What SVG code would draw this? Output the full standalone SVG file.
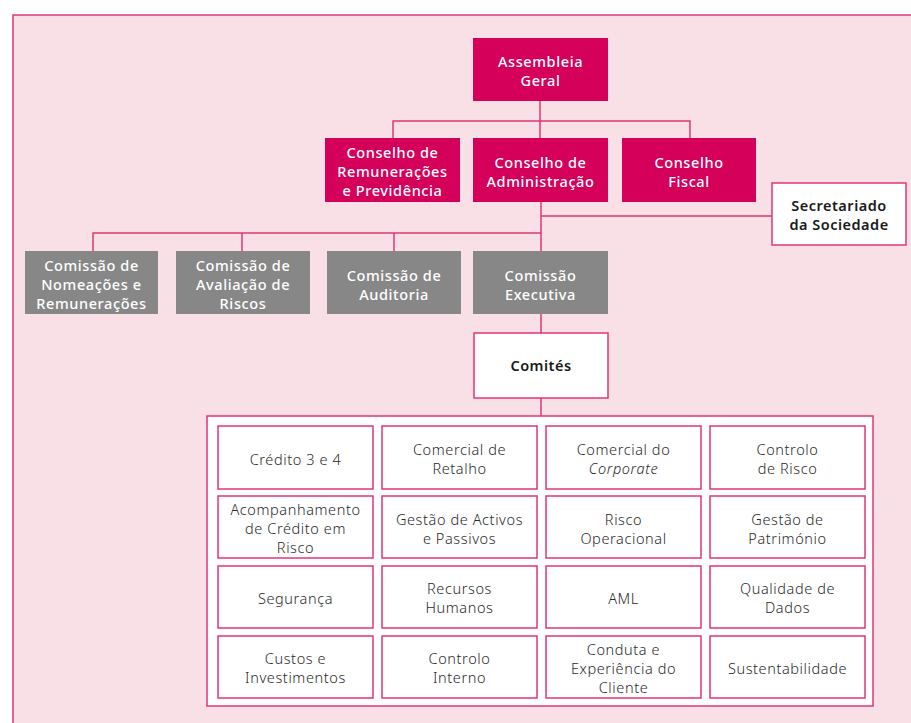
<svg xmlns="http://www.w3.org/2000/svg" width="911" height="723" viewBox="0 0 911 723">
<style>
.mg{fill:#d4005a}
.gr{fill:#878787}
.wb{fill:#ffffff;stroke:#e2357a;stroke-width:1.5}
.tw{font-family:"Noto Sans","Open Sans",sans-serif;font-size:14.5px;font-weight:500;letter-spacing:0.6px;fill:#ffffff;text-anchor:middle}
.tb{font-family:"Noto Sans","Open Sans",sans-serif;font-size:14.5px;font-weight:600;letter-spacing:0.5px;fill:#1a1a1a;text-anchor:middle}
.tc{font-family:"Noto Sans","Open Sans",sans-serif;font-size:14.5px;font-weight:300;letter-spacing:0.6px;fill:#2a2a2a;text-anchor:middle}
.ln{fill:none;stroke:#e2357a;stroke-width:1.5}
</style>
<rect x="0" y="0" width="911" height="723" fill="#ffffff"/>
<rect x="13" y="15" width="910" height="720" fill="#f8e0e6" stroke="#e2357a" stroke-width="1.5"/>
<g id="connectors" class="ln">
<path d="M540 101V138M393 138V121H690V138"/>
<path d="M541 202V314M541 216H772M93 251V233H541M242 233V251M394 233V251"/>
<path d="M541 314V333M541 398V416"/>
</g>
<g id="assembleia"><rect class="mg" x="473" y="38" width="135" height="63"/><text class="tw" x="540.5" y="67">Assembleia</text><text class="tw" x="540.5" y="86">Geral</text></g>
<g id="remuneracoes"><rect class="mg" x="325" y="138" width="135" height="64"/><text class="tw" x="392.5" y="158">Conselho de</text><text class="tw" x="392.5" y="177">Remunerações</text><text class="tw" x="392.5" y="196">e Previdência</text></g>
<g id="administracao"><rect class="mg" x="473" y="138" width="135" height="64"/><text class="tw" x="540.5" y="168">Conselho de</text><text class="tw" x="540.5" y="187">Administração</text></g>
<g id="fiscal"><rect class="mg" x="622" y="138" width="134" height="64"/><text class="tw" x="689" y="168">Conselho</text><text class="tw" x="689" y="187">Fiscal</text></g>
<g id="secretariado"><rect class="wb" x="772" y="183" width="134" height="62"/><text class="tb" x="839" y="211">Secretariado</text><text class="tb" x="839" y="230">da Sociedade</text></g>
<g id="nomeacoes"><rect class="gr" x="25" y="251" width="133" height="63"/><text class="tw" x="91.5" y="271">Comissão de</text><text class="tw" x="91.5" y="290">Nomeações e</text><text class="tw" x="91.5" y="309">Remunerações</text></g>
<g id="avaliacao"><rect class="gr" x="176" y="251" width="134" height="63"/><text class="tw" x="243" y="271">Comissão de</text><text class="tw" x="243" y="290">Avaliação de</text><text class="tw" x="243" y="309">Riscos</text></g>
<g id="auditoria"><rect class="gr" x="327" y="251" width="134" height="63"/><text class="tw" x="394" y="281">Comissão de</text><text class="tw" x="394" y="300">Auditoria</text></g>
<g id="executiva"><rect class="gr" x="473" y="251" width="135" height="63"/><text class="tw" x="540.5" y="281">Comissão</text><text class="tw" x="540.5" y="300">Executiva</text></g>
<g id="comites"><rect class="wb" x="474" y="333" width="134" height="65"/><text class="tb" x="541" y="371">Comités</text></g>
<g id="comites-grid">
<rect class="wb" x="207" y="416" width="666" height="290"/>
<rect class="wb" x="218" y="426" width="155" height="63"/><text class="tc" x="295.5" y="465">Crédito 3 e 4</text>
<rect class="wb" x="382" y="426" width="155" height="63"/><text class="tc" x="459.5" y="455">Comercial de</text><text class="tc" x="459.5" y="474">Retalho</text>
<rect class="wb" x="546" y="426" width="155" height="63"/><text class="tc" x="623.5" y="455">Comercial do</text><text class="tc" x="623.5" y="474" font-style="italic">Corporate</text>
<rect class="wb" x="710" y="426" width="155" height="63"/><text class="tc" x="787.5" y="455">Controlo</text><text class="tc" x="787.5" y="474">de Risco</text>
<rect class="wb" x="218" y="496" width="155" height="62"/><text class="tc" x="295.5" y="515">Acompanhamento</text><text class="tc" x="295.5" y="534">de Crédito em</text><text class="tc" x="295.5" y="553">Risco</text>
<rect class="wb" x="382" y="496" width="155" height="62"/><text class="tc" x="459.5" y="525">Gestão de Activos</text><text class="tc" x="459.5" y="544">e Passivos</text>
<rect class="wb" x="546" y="496" width="155" height="62"/><text class="tc" x="623.5" y="525">Risco</text><text class="tc" x="623.5" y="544">Operacional</text>
<rect class="wb" x="710" y="496" width="155" height="62"/><text class="tc" x="787.5" y="525">Gestão de</text><text class="tc" x="787.5" y="544">Património</text>
<rect class="wb" x="218" y="566" width="155" height="62"/><text class="tc" x="295.5" y="604">Segurança</text>
<rect class="wb" x="382" y="566" width="155" height="62"/><text class="tc" x="459.5" y="594">Recursos</text><text class="tc" x="459.5" y="613">Humanos</text>
<rect class="wb" x="546" y="566" width="155" height="62"/><text class="tc" x="623.5" y="604">AML</text>
<rect class="wb" x="710" y="566" width="155" height="62"/><text class="tc" x="787.5" y="594">Qualidade de</text><text class="tc" x="787.5" y="613">Dados</text>
<rect class="wb" x="218" y="636" width="155" height="62"/><text class="tc" x="295.5" y="664">Custos e</text><text class="tc" x="295.5" y="683">Investimentos</text>
<rect class="wb" x="382" y="636" width="155" height="62"/><text class="tc" x="459.5" y="664">Controlo</text><text class="tc" x="459.5" y="683">Interno</text>
<rect class="wb" x="546" y="636" width="155" height="62"/><text class="tc" x="623.5" y="655">Conduta e</text><text class="tc" x="623.5" y="674">Experiência do</text><text class="tc" x="623.5" y="693">Cliente</text>
<rect class="wb" x="710" y="636" width="155" height="62"/><text class="tc" x="787.5" y="674">Sustentabilidade</text>
</g>
</svg>
